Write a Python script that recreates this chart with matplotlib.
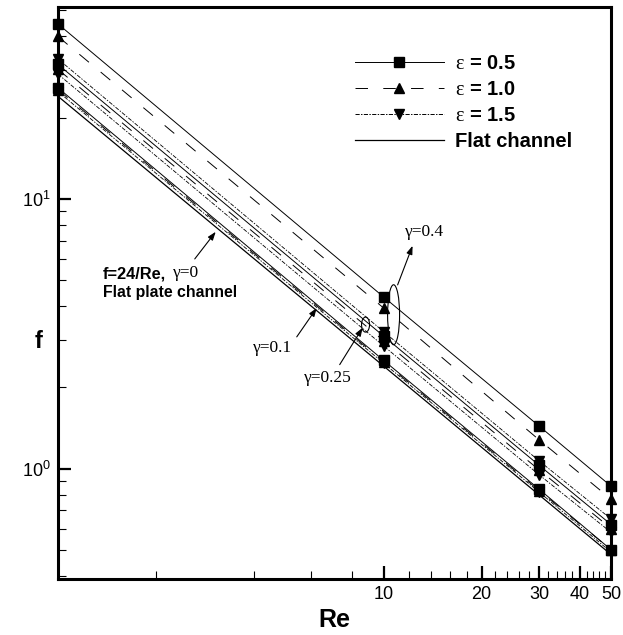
import numpy as np
import matplotlib
matplotlib.use("Agg")
import matplotlib.pyplot as plt
import matplotlib.transforms as mtransforms
from matplotlib.patches import Ellipse
from matplotlib.lines import Line2D

plt.rcParams['font.family'] = ['Liberation Sans', 'DejaVu Sans']
plt.rcParams['mathtext.fontset'] = 'custom'
plt.rcParams['mathtext.rm'] = 'Liberation Serif'
plt.rcParams['mathtext.it'] = 'Liberation Serif'
plt.rcParams['mathtext.bf'] = 'Liberation Serif:bold'
plt.rcParams['lines.scale_dashes'] = False

# ------------------ DATOS ------------------
re_pts = [1, 10, 30, 50]

# f, por gamma y epsilon
f_g04_e05 = [44.5, 4.33, 1.44, 0.86]
f_g04_e10 = [40.0, 3.94, 1.28, 0.77]
f_g04_e15 = [33.0, 3.22, 1.07, 0.65]
f_g025_e05 = [31.5, 3.10, 1.03, 0.62]
f_g025_e10 = [30.2, 2.98, 0.99, 0.60]
f_g025_e15 = [29.0, 2.85, 0.95, 0.58]
f_g01_e05 = [25.8, 2.52, 0.84, 0.50]
f_g01_e10 = [25.4, 2.49, 0.83, 0.50]
f_g01_e15 = [25.0, 2.46, 0.82, 0.49]

re_flat = [1, 50]
f_flat = [24.0, 0.48]

eps_labels = [r"$\mathrm{\varepsilon}$ = 0.5", r"$\mathrm{\varepsilon}$ = 1.0",
              r"$\mathrm{\varepsilon}$ = 1.5"]
xtick_vals = [10, 20, 30, 40, 50]
xtick_minor = [2, 4, 6, 8, 12, 14, 16, 18, 22, 24, 26, 28,
               32, 34, 36, 38, 42, 44, 46, 48]

# ------------------ ESTILOS ------------------
estilos = {
    0.5: dict(marker='s', dashes=(None, None)),
    1.0: dict(marker='^', dashes=(9, 11)),
    1.5: dict(marker='v', dashes=(3, 1, 1, 1)),
}

series = [
    (f_g01_e15, 1.5), (f_g01_e10, 1.0), (f_g01_e05, 0.5),
    (f_g025_e15, 1.5), (f_g025_e10, 1.0), (f_g025_e05, 0.5),
    (f_g04_e15, 1.5), (f_g04_e10, 1.0), (f_g04_e05, 0.5),
]

# ------------------ GRAFICADO ------------------
fig = plt.figure(figsize=(6.23, 6.35), dpi=100)
ax = fig.add_axes([0.0931, 0.0882, 0.888, 0.901])
ax.set_xscale('log')
ax.set_yscale('log')

ax.plot(re_flat, f_flat, color='black', lw=0.9)

for fvals, eps in series:
    st = estilos[eps]
    ln, = ax.plot(re_pts, fvals, color='black', lw=0.7 if eps != 1.5 else 0.6,
                  marker=st['marker'], markersize=7.5, clip_on=False, zorder=3)
    if eps != 0.5:
        ln.set_dashes(st['dashes'])

ax.set_xlim(1, 50)
ax.set_ylim(0.39, 51.5)

# ejes
for s in ax.spines.values():
    s.set_linewidth(2.2)
ax.set_xticks(xtick_vals)
ax.set_xticklabels([str(v) for v in xtick_vals])
ax.set_xticks(xtick_minor, minor=True)
ax.tick_params(which='both', direction='in', top=False, right=False, labelsize=13)
ax.tick_params(which='major', length=9.5, width=1.6, pad=5)
ax.tick_params(which='minor', length=5.8, width=0.8)
ax.xaxis.set_minor_formatter(matplotlib.ticker.NullFormatter())

ax.set_xlabel("Re", fontsize=18, fontweight='bold')
ax.xaxis.set_label_coords(0.5, -0.05)
ax.set_ylabel("f", fontsize=17, fontweight='bold', rotation=0, va='center', ha='center')
ax.yaxis.set_label_coords(-0.036, 0.415)

# leyenda
handles = []
for eps, lab in zip([0.5, 1.0, 1.5], eps_labels):
    st = estilos[eps]
    h = Line2D([], [], color='black', lw=0.7, marker=st['marker'], markersize=7.5)
    if eps != 0.5:
        h.set_dashes(st['dashes'])
    handles.append(h)
handles.append(Line2D([], [], color='black', lw=0.9))
labels = eps_labels + ["Flat channel"]
ax.legend(handles, labels, loc='upper left', bbox_to_anchor=(0.537, 0.917),
          frameon=False, numpoints=1, handlelength=4.4, handletextpad=0.55,
          labelspacing=0.34, borderpad=0, borderaxespad=0,
          prop=dict(weight='bold', size=14.5))

# ------------------ ANOTACIONES ------------------
flecha = dict(arrowstyle='-|>,head_length=0.5,head_width=0.18', color='black',
              lw=0.8, shrinkA=0, shrinkB=0)
serif = dict(family='Liberation Serif', size=12.5)

ax.text(1.37, 5.28, "f=24/Re,", fontsize=11.8, fontweight='bold', va='center')
ax.text(2.25, 5.32, "γ=0", va='center', **serif)
ax.text(1.37, 4.49, "Flat plate channel", fontsize=11.4, fontweight='bold', va='center')
ax.annotate("", xy=(3.05, 7.55), xytext=(2.63, 5.99), arrowprops=flecha)

ax.text(4.57, 2.81, "γ=0.1", ha='center', va='center', **serif)
ax.annotate("", xy=(6.23, 3.94), xytext=(5.41, 3.08), arrowprops=flecha)

ax.text(6.73, 2.17, "γ=0.25", ha='center', va='center', **serif)
ax.annotate("", xy=(8.62, 3.33), xytext=(7.33, 2.43), arrowprops=flecha)

ax.text(13.4, 7.55, "γ=0.4", ha='center', va='center', **serif)
ax.annotate("", xy=(12.27, 6.70), xytext=(11.04, 4.80), arrowprops=flecha)

# elipses (tamaño en pulgadas, centro en datos)
for cx, cy, w, h in [(8.80, 3.42, 0.08, 0.15), (10.73, 3.72, 0.12, 0.60)]:
    tr = fig.dpi_scale_trans + mtransforms.ScaledTranslation(cx, cy, ax.transData)
    ax.add_patch(Ellipse((0, 0), w, h, transform=tr, fill=False,
                         edgecolor='black', lw=0.8, zorder=4))

fig.savefig("out.png", dpi=100)
